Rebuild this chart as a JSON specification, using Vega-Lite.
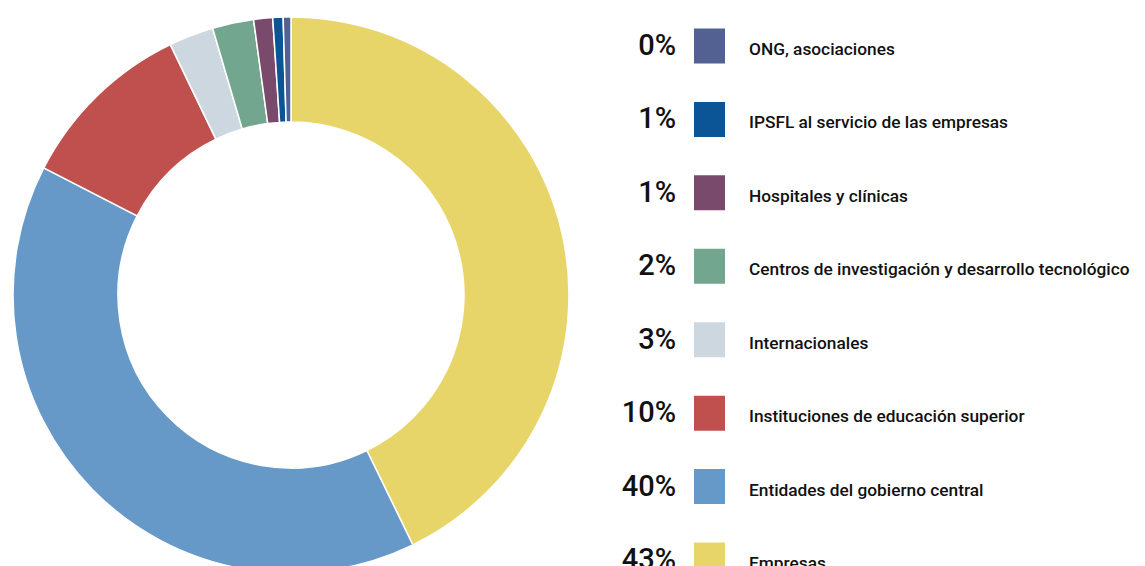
{
  "$schema": "https://vega.github.io/schema/vega-lite/v6.json",
  "background": "white",
  "padding": {"left": 0, "top": 14, "right": 0, "bottom": 0},
  "spacing": 0,
  "config": {"view": {"stroke": null}},
  "data": {
    "values": [
      {"rank": 1, "categoria": "Empresas", "valor": 0.428},
      {"rank": 2, "categoria": "Entidades del gobierno central", "valor": 0.398},
      {"rank": 3, "categoria": "Instituciones de educación superior", "valor": 0.103},
      {"rank": 4, "categoria": "Internacionales", "valor": 0.026},
      {"rank": 5, "categoria": "Centros de investigación y desarrollo tecnológico", "valor": 0.024},
      {"rank": 6, "categoria": "Hospitales y clínicas", "valor": 0.011},
      {"rank": 7, "categoria": "IPSFL al servicio de las empresas", "valor": 0.006},
      {"rank": 8, "categoria": "ONG, asociaciones", "valor": 0.0045}
    ]
  },
  "hconcat": [
    {
      "width": 582,
      "height": 552,
      "mark": {"type": "arc", "outerRadius": 278, "innerRadius": 173, "stroke": "white", "strokeWidth": 1.5},
      "encoding": {
        "theta": {"field": "valor", "type": "quantitative", "stack": true},
        "order": {"field": "rank", "type": "quantitative"},
        "color": {
          "field": "categoria",
          "type": "nominal",
          "legend": null,
          "scale": {
            "domain": ["Empresas", "Entidades del gobierno central", "Instituciones de educación superior", "Internacionales", "Centros de investigación y desarrollo tecnológico", "Hospitales y clínicas", "IPSFL al servicio de las empresas", "ONG, asociaciones"],
            "range": ["#E8D56A", "#6699C8", "#C0504D", "#CDD7E0", "#72A68E", "#7A4A6C", "#0B5495", "#536192"]
          }
        }
      }
    },
    {
      "width": 563,
      "height": 552,
      "encoding": {
        "y": {
          "field": "categoria",
          "type": "nominal",
          "sort": {"field": "rank", "order": "descending"},
          "axis": null,
          "scale": {"type": "point", "padding": 0, "range": [27, 541]}
        }
      },
      "layer": [
        {
          "mark": {"type": "text", "align": "right", "baseline": "middle", "font": "Roboto", "fontSize": 29, "fontWeight": 500, "color": "#111111"},
          "encoding": {
            "x": {"value": 94},
            "text": {"field": "valor", "type": "quantitative", "format": ".0%"}
          }
        },
        {
          "mark": {"type": "point", "filled": true, "opacity": 1, "strokeWidth": 0, "shape": "M -0.886 -1 L 0.886 -1 L 0.886 1 L -0.886 1 Z", "size": 1225},
          "encoding": {
            "x": {"value": 127.5},
            "color": {"field": "categoria", "type": "nominal", "legend": null}
          }
        },
        {
          "mark": {"type": "text", "align": "left", "baseline": "middle", "dy": 4, "font": "Roboto", "fontSize": 17.3, "fontWeight": 500, "color": "#111111"},
          "encoding": {
            "x": {"value": 167},
            "text": {"field": "categoria", "type": "nominal"}
          }
        }
      ]
    }
  ],
  "resolve": {"scale": {"color": "shared"}}
}
